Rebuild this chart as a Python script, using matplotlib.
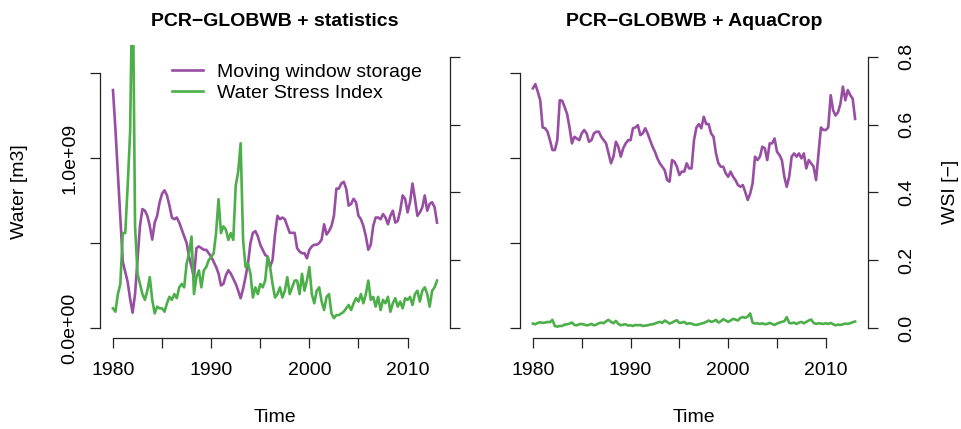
import numpy as np
import matplotlib
matplotlib.use('Agg')
import matplotlib.pyplot as plt

plt.rcParams['font.family'] = ['Liberation Sans', 'DejaVu Sans']
plt.rcParams['font.size'] = 14

PURPLE = '#984EA3'
GREEN = '#4DAF4A'

# quarterly time axis, 1980.0 .. 2013.0
time = 1980 + 0.25 * np.arange(133)

# moving window storage [1e9 m3], PCR-GLOBWB + statistics
storage_stat = [
    1.40, 1.17, 0.91, 0.66,  0.39, 0.33, 0.27, 0.17,  0.09, 0.20, 0.40, 0.60,
    0.70, 0.69, 0.66, 0.60,  0.52, 0.62, 0.66, 0.74,  0.79, 0.81, 0.78, 0.72,
    0.65, 0.64, 0.65, 0.62,  0.58, 0.54, 0.50, 0.42,  0.36, 0.30, 0.47, 0.48,
    0.47, 0.46, 0.46, 0.44,  0.42, 0.39, 0.36, 0.32,  0.25, 0.26, 0.31, 0.34,
    0.32, 0.29, 0.26, 0.22,  0.175, 0.23, 0.30, 0.38, 0.50, 0.56, 0.57, 0.54,
    0.49, 0.46, 0.43, 0.42,  0.36, 0.40, 0.55, 0.66,  0.64, 0.65, 0.64, 0.60,
    0.56, 0.56, 0.56, 0.47,  0.45, 0.44, 0.44, 0.41,  0.46, 0.48, 0.49, 0.49,
    0.50, 0.52, 0.61, 0.55,  0.57, 0.60, 0.66, 0.82,  0.82, 0.85, 0.86, 0.82,
    0.72, 0.73, 0.76, 0.74,  0.66, 0.64, 0.60, 0.54,  0.46, 0.49, 0.60, 0.65,
    0.65, 0.64, 0.67, 0.65,  0.61, 0.66, 0.69, 0.62,  0.63, 0.69, 0.78, 0.76,
    0.68, 0.74, 0.85, 0.76,  0.66, 0.68, 0.71, 0.78,  0.69, 0.73, 0.74, 0.71,
    0.62]

# water stress index [-], PCR-GLOBWB + statistics
wsi_stat = [
    0.058, 0.048, 0.10, 0.13,  0.28, 0.28, 0.42, 0.58,  1.10, 0.30, 0.16, 0.13,
    0.10, 0.083, 0.11, 0.15,  0.083, 0.043, 0.063, 0.058,  0.058, 0.048, 0.073, 0.092,
    0.083, 0.10, 0.088, 0.12,  0.13, 0.12, 0.19, 0.22,  0.27, 0.10, 0.15, 0.17,
    0.12, 0.17, 0.18, 0.20,  0.21, 0.22, 0.28, 0.38,  0.28, 0.30, 0.29, 0.26,
    0.28, 0.26, 0.42, 0.46,  0.545, 0.26, 0.18, 0.19,  0.16, 0.09, 0.12, 0.10,
    0.13, 0.12, 0.14, 0.21,  0.18, 0.13, 0.09, 0.10,  0.12, 0.09, 0.11, 0.15,
    0.10, 0.12, 0.14, 0.14,  0.10, 0.16, 0.11, 0.14,  0.18, 0.10, 0.073, 0.11,
    0.12, 0.078, 0.053, 0.092,  0.10, 0.043, 0.029, 0.038,  0.038, 0.043, 0.048, 0.058,
    0.068, 0.053, 0.073, 0.088,  0.078, 0.10, 0.073, 0.10,  0.14, 0.083, 0.092, 0.063,
    0.092, 0.053, 0.083, 0.073,  0.092, 0.048, 0.073, 0.088,  0.063, 0.078, 0.058, 0.088,
    0.083, 0.092, 0.068, 0.10,  0.11, 0.078, 0.11, 0.12,  0.10, 0.063, 0.11, 0.12,
    0.14]

# moving window storage [1e9 m3], PCR-GLOBWB + AquaCrop
storage_aqua = [
    1.41, 1.435, 1.39, 1.34,  1.18, 1.175, 1.155, 1.105,  1.047, 1.047, 1.105, 1.34,
    1.337, 1.30, 1.26, 1.18,  1.086, 1.125, 1.115, 1.105,  1.145, 1.165, 1.145, 1.096,
    1.105, 1.145, 1.155, 1.155,  1.125, 1.105, 1.086, 1.027,  0.969, 1.008, 1.096, 1.067,
    1.008, 1.057, 1.086, 1.105,  1.105, 1.175, 1.18, 1.194,  1.135, 1.145, 1.175, 1.145,
    1.105, 1.067, 1.037, 0.998,  0.969, 0.949, 0.929, 0.87,  0.861, 0.988, 0.978, 0.949,
    0.90, 0.92, 0.92, 0.969,  0.939, 0.939, 1.105, 1.18,  1.20, 1.175, 1.243, 1.20,
    1.20, 1.145, 1.125, 1.027,  0.969, 0.949, 0.949, 0.91,  0.89, 0.92, 0.89, 0.87,
    0.841, 0.831, 0.841, 0.80,  0.753, 0.79, 0.851, 1.008,  0.988, 1.008, 1.067, 1.057,
    0.988, 1.086, 1.086, 1.115,  1.037, 1.018, 0.988, 0.89,  0.831, 0.89, 1.008, 1.027,
    1.008, 1.027, 0.998, 1.027,  0.939, 0.988, 0.969, 0.949,  0.87, 1.027, 1.18, 1.165,
    1.165, 1.18, 1.37, 1.28,  1.25, 1.27, 1.32, 1.42,  1.34, 1.40, 1.37, 1.35,
    1.23]

# water stress index [-], PCR-GLOBWB + AquaCrop
wsi_aqua = [
    0.013, 0.011, 0.015, 0.017,  0.015, 0.016, 0.018, 0.017,  0.024, 0.006, 0.004, 0.006,
    0.006, 0.010, 0.011, 0.013,  0.016, 0.009, 0.008, 0.011,  0.012, 0.010, 0.008, 0.009,
    0.012, 0.008, 0.010, 0.014,  0.016, 0.014, 0.020, 0.024,  0.018, 0.014, 0.021, 0.012,
    0.008, 0.010, 0.011, 0.007,  0.008, 0.006, 0.009, 0.008,  0.009, 0.006, 0.007, 0.008,
    0.010, 0.011, 0.013, 0.016,  0.018, 0.015, 0.022, 0.018,  0.013, 0.016, 0.020, 0.023,
    0.015, 0.016, 0.018, 0.012,  0.014, 0.013, 0.010, 0.009,  0.011, 0.013, 0.015, 0.018,
    0.022, 0.018, 0.020, 0.024,  0.016, 0.020, 0.026, 0.022,  0.018, 0.022, 0.027, 0.025,
    0.022, 0.030, 0.032, 0.030,  0.034, 0.043, 0.016, 0.013,  0.014, 0.012, 0.014, 0.011,
    0.012, 0.015, 0.012, 0.009,  0.013, 0.016, 0.018, 0.020,  0.032, 0.015, 0.014, 0.016,
    0.012, 0.016, 0.018, 0.014,  0.018, 0.022, 0.025, 0.015,  0.012, 0.014, 0.013, 0.012,
    0.014, 0.012, 0.015, 0.011,  0.008, 0.010, 0.009, 0.011,  0.013, 0.012, 0.014, 0.017,
    0.019]

storage_ticks = [0, 0.5, 1.0, 1.5]
storage_labels = ['0.0e+00', '', '1.0e+09', '']
wsi_ticks = [0, 0.2, 0.4, 0.6, 0.8]
wsi_labels = ['0.0', '0.2', '0.4', '0.6', '0.8']
year_ticks = [1980, 1985, 1990, 1995, 2000, 2005, 2010]
year_labels = ['1980', '', '1990', '', '2000', '', '2010']

W, H = 962, 429
fig = plt.figure(figsize=(W / 100, H / 100), dpi=100)
AXCOL = '#222222'


def panel(x0, x1, storage, wsi, title, left_labels, right_labels, legend=False):
    ''' One panel: storage on the left axis, WSI on the right axis
    '''
    ax = fig.add_axes([x0 / W, (H - 338) / H, (x1 - x0) / W, 293 / H])
    ax.set_xlim(1978.68, 2014.32)
    ax.set_ylim(-0.0588, 1.665)
    l1, = ax.plot(time, storage, color=PURPLE, lw=1.9)
    ax.set_xticks(year_ticks)
    ax.set_xticklabels(year_labels)
    ax.set_yticks(storage_ticks)
    if left_labels:
        ax.set_yticklabels(storage_labels, rotation=90, va='center')
    else:
        ax.set_yticklabels([''] * len(storage_ticks))
    for s in ['top', 'right']:
        ax.spines[s].set_visible(False)
    ax.spines['left'].set_bounds(0, 1.5)
    ax.spines['bottom'].set_bounds(1980, 2010)
    for s in ['left', 'bottom']:
        ax.spines[s].set_color(AXCOL)
        ax.spines[s].set_linewidth(0.9)
    ax.tick_params(axis='x', length=7.5, width=0.9, color=AXCOL, pad=10)
    ax.tick_params(axis='y', length=7.5, width=0.9, color=AXCOL, pad=8)

    ax2 = ax.twinx()
    ax2.set_ylim(-0.0295, 0.835)
    l2, = ax2.plot(time, wsi, color=GREEN, lw=1.9)
    ax2.set_yticks(wsi_ticks)
    if right_labels:
        ax2.set_yticklabels(wsi_labels, rotation=90, va='center')
    else:
        ax2.set_yticklabels([''] * len(wsi_ticks))
    for s in ['top', 'left', 'bottom']:
        ax2.spines[s].set_visible(False)
    ax2.spines['right'].set_bounds(0, 0.8)
    ax2.spines['right'].set_color(AXCOL)
    ax2.spines['right'].set_linewidth(0.9)
    ax2.tick_params(axis='y', length=7.5, width=0.9, color=AXCOL, pad=14)

    cx = (x0 + x1) / 2.0
    fig.text(cx / W, 1 - 22 / H, title, ha='center', va='center',
             fontweight='bold')
    fig.text(cx / W, 1 - 418 / H, 'Time', ha='center', va='center')

    if legend:
        ax2.legend([l1, l2], ['Moving window storage', 'Water Stress Index'],
                   loc='upper left', bbox_to_anchor=(172 / W, 1 - 63 / H),
                   bbox_transform=fig.transFigure, frameon=False,
                   handlelength=1.6, handletextpad=0.7, labelspacing=0.2,
                   borderpad=0, borderaxespad=0)
    return ax, ax2


panel(100, 450, storage_stat, wsi_stat, 'PCR\u2212GLOBWB + statistics',
      True, False, legend=True)
panel(520, 868, storage_aqua, wsi_aqua, 'PCR\u2212GLOBWB + AquaCrop',
      False, True)

fig.text(20 / W, 1 - 192 / H, 'Water [m3]', rotation=90,
         ha='center', va='center')
fig.text(951 / W, 1 - 192 / H, 'WSI [\u2212]', rotation=90,
         ha='center', va='center')

fig.savefig('out.png', dpi=100)
